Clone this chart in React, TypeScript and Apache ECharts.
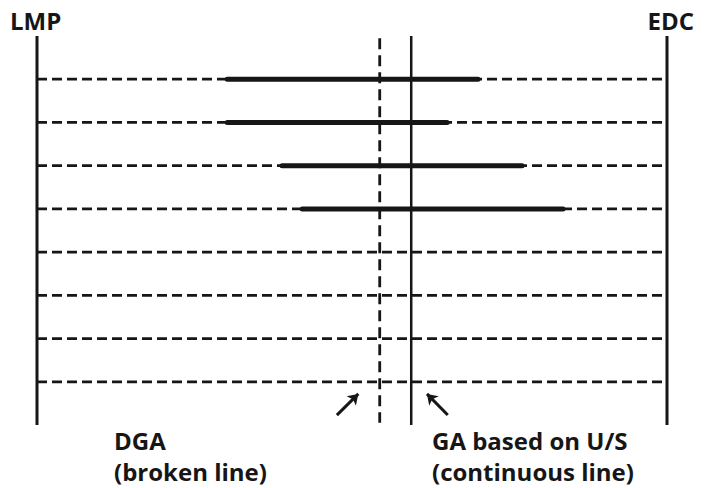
import React, { useEffect, useRef } from "react";
import * as echarts from "echarts";

// Scale: LMP = 0, EDC = 100; rows 1..8 from top
const rows = [1, 2, 3, 4, 5, 6, 7, 8];
const barStarts = [30.2, 30.2, 38.9, 42.1];
const barEnds = [70.0, 65.1, 77.0, 83.5];
const dgaX = 54.4;
const gaX = 59.4;
const leftX = 0;
const rightX = 100;
const arrowDGA = [[47.6, 8.77], [51.0, 8.28]];
const arrowGA = [[65.2, 8.77], [61.9, 8.28]];
const labelTop = ["LMP", "EDC"];
const labelDGA = ["DGA", "(broken line)"];
const labelGA = ["GA based on U/S", "(continuous line)"];

const INK = "#161616";

export default function App() {
  const ref = useRef<HTMLDivElement>(null);
  useEffect(() => {
    if (!ref.current) return;
    const chart = echarts.init(ref.current, null, { renderer: "svg" });
    const series: any[] = [];
    rows.forEach((r) => {
      series.push({
        type: "line",
        data: [[leftX, r], [rightX, r]],
        symbol: "none",
        clip: false,
        lineStyle: { color: INK, width: 2.8, type: [10, 5] },
        z: 2,
      });
    });
    barStarts.forEach((s, i) => {
      series.push({
        type: "line",
        data: [[s, rows[i]], [barEnds[i], rows[i]]],
        symbol: "none",
        clip: false,
        lineStyle: { color: INK, width: 5, cap: "round" },
        z: 3,
      });
    });
    // Vertical lines
    series.push({
      type: "line",
      data: [[leftX, 0], [leftX, 9]],
      symbol: "none",
      clip: false,
      lineStyle: { color: INK, width: 3 },
      z: 4,
    });
    series.push({
      type: "line",
      data: [[rightX, 0], [rightX, 9]],
      symbol: "none",
      clip: false,
      lineStyle: { color: INK, width: 3 },
      z: 4,
    });
    series.push({
      type: "line",
      data: [[dgaX, 0.05], [dgaX, 8.95]],
      symbol: "none",
      clip: false,
      lineStyle: { color: INK, width: 2.8, type: [11, 6] },
      z: 4,
    });
    series.push({
      type: "line",
      data: [[gaX, 0], [gaX, 9]],
      symbol: "none",
      clip: false,
      lineStyle: { color: INK, width: 2.5 },
      z: 4,
    });
    // Arrows
    series.push({
      type: "lines",
      coordinateSystem: "cartesian2d",
      symbol: ["none", "arrow"],
      symbolSize: 10,
      lineStyle: { color: INK, width: 3, opacity: 1 },
      data: [{ coords: arrowDGA }, { coords: arrowGA }],
      z: 5,
    });

    const textStyle = (x: number, y: number, t: string, align = "left") => ({
      type: "text",
      x,
      y,
      style: {
        text: t,
        fill: INK,
        font: "bold 24px 'Open Sans', sans-serif",
        textAlign: align,
        textVerticalAlign: "middle",
      },
    });

    chart.setOption({
      animation: false,
      grid: { left: 37, right: 37, top: 36, bottom: 63 },
      xAxis: { type: "value", min: 0, max: 100, show: false },
      yAxis: { type: "value", min: 0, max: 9, inverse: true, show: false },
      series,
      graphic: [
        textStyle(10, 20, labelTop[0]),
        textStyle(694, 20, labelTop[1], "right"),
        textStyle(114, 440, labelDGA[0]),
        textStyle(114, 471, labelDGA[1]),
        textStyle(432, 440, labelGA[0]),
        textStyle(432, 471, labelGA[1]),
      ],
    });
    return () => chart.dispose();
  }, []);
  return (
    <div
      ref={ref}
      style={{ width: 704, height: 488, position: "absolute", left: 0, top: 0, background: "#fff" }}
    />
  );
}
